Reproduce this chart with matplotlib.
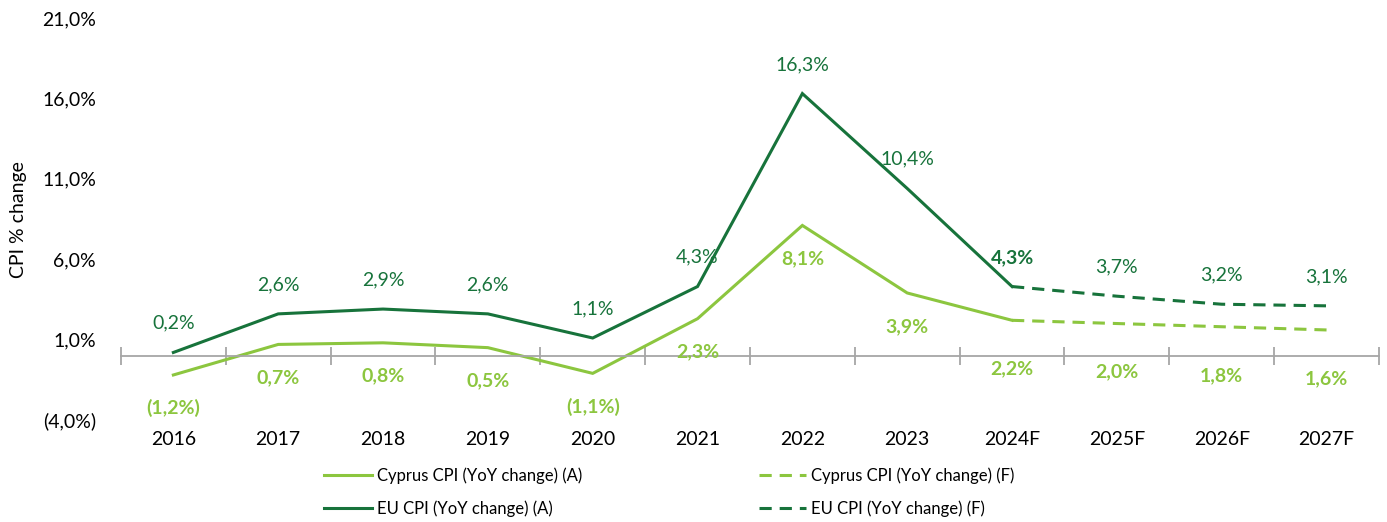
import matplotlib
matplotlib.use("Agg")
import matplotlib.pyplot as plt
from matplotlib.ticker import FuncFormatter

plt.rcParams["font.family"] = ["Lato", "DejaVu Sans"]

# ---------------------------------------------------------------------------
# Data
# ---------------------------------------------------------------------------
years = ["2016", "2017", "2018", "2019", "2020", "2021", "2022", "2023",
         "2024F", "2025F", "2026F", "2027F"]
eu_actual = [0.2, 2.6, 2.9, 2.6, 1.1, 4.3, 16.3, 10.4, 4.3]
eu_forecast = [4.3, 3.7, 3.2, 3.1]          # 2024F .. 2027F
cy_actual = [-1.2, 0.7, 0.8, 0.5, -1.1, 2.3, 8.1, 3.9, 2.2]
cy_forecast = [2.2, 2.0, 1.8, 1.6]          # 2024F .. 2027F
yticks = [-4, 1, 6, 11, 16, 21]

EU_COL = "#17733b"
CY_COL = "#8cc63f"
AX_COL = "#a6a6a6"

n_act = len(eu_actual)
x_act = list(range(n_act))
x_fc = list(range(n_act - 1, n_act - 1 + len(eu_forecast)))


def pct(v, _=None):
    s = f"{abs(v):.1f}".replace(".", ",") + "%"
    return f"({s})" if v < 0 else s


fig = plt.figure(figsize=(13.87, 5.22), dpi=100)
ax = fig.add_axes([0.0872, 0.1954, 0.9070, 0.7701])

lw = 2.2
ax.plot(x_act, cy_actual, color=CY_COL, lw=lw, solid_joinstyle="miter",
        label="Cyprus CPI (YoY change) (A)")
ax.plot(x_act, eu_actual, color=EU_COL, lw=lw, solid_joinstyle="miter",
        label="EU CPI (YoY change) (A)")
ax.plot(x_fc, cy_forecast, color=CY_COL, lw=lw, ls=(0, (4, 2.6)),
        label="Cyprus CPI (YoY change) (F)")
ax.plot(x_fc, eu_forecast, color=EU_COL, lw=lw, ls=(0, (4, 2.6)),
        label="EU CPI (YoY change) (F)")

# ---------------------------------------------------------------------------
# Data labels
# ---------------------------------------------------------------------------
eu_vals = eu_actual + eu_forecast[1:]
cy_vals = cy_actual + cy_forecast[1:]
fs = 14
for i, v in enumerate(eu_vals):
    ax.annotate(pct(v), (i, v), xytext=(0, 21), textcoords="offset points",
                ha="center", va="center", fontsize=fs, color=EU_COL,
                fontweight="bold" if i == n_act - 1 else "normal")
for i, v in enumerate(cy_vals):
    off = -24 if i < n_act - 1 else -35
    ax.annotate(pct(v), (i, v), xytext=(0, off), textcoords="offset points",
                ha="center", va="center", fontsize=fs, color=CY_COL,
                fontweight="bold")

# ---------------------------------------------------------------------------
# Axes styling
# ---------------------------------------------------------------------------
ax.set_xlim(-0.5, len(years) - 0.5)
ax.set_ylim(-4, 21)
ax.set_yticks(yticks)
ax.yaxis.set_major_formatter(FuncFormatter(pct))
ax.tick_params(axis="y", length=0, pad=18, labelsize=fs)

ax.set_xticks(range(len(years)))
ax.set_xticklabels(years)
ax.set_xticks([i - 0.5 for i in range(len(years) + 1)], minor=True)
ax.tick_params(axis="x", which="major", length=0, pad=54, labelsize=fs)
ax.tick_params(axis="x", which="minor", direction="inout", length=13,
               width=1.3, color=AX_COL)

for side in ("top", "right", "left"):
    ax.spines[side].set_visible(False)
ax.spines["bottom"].set_position(("data", 0))
ax.spines["bottom"].set_color(AX_COL)
ax.spines["bottom"].set_linewidth(1.3)

fig.text(0.013, 0.58, "CPI % change", rotation=90, ha="center", va="center",
         fontsize=fs)

handles, labels = ax.get_legend_handles_labels()
fig.legend(handles, labels, loc="center left",
           bbox_to_anchor=(0.2278, 0.0575), ncol=2, frameon=False,
           fontsize=12, handlelength=2.85, handletextpad=0.3,
           columnspacing=10.6, labelspacing=1.0, borderpad=0)

fig.savefig("out.png", dpi=100)
